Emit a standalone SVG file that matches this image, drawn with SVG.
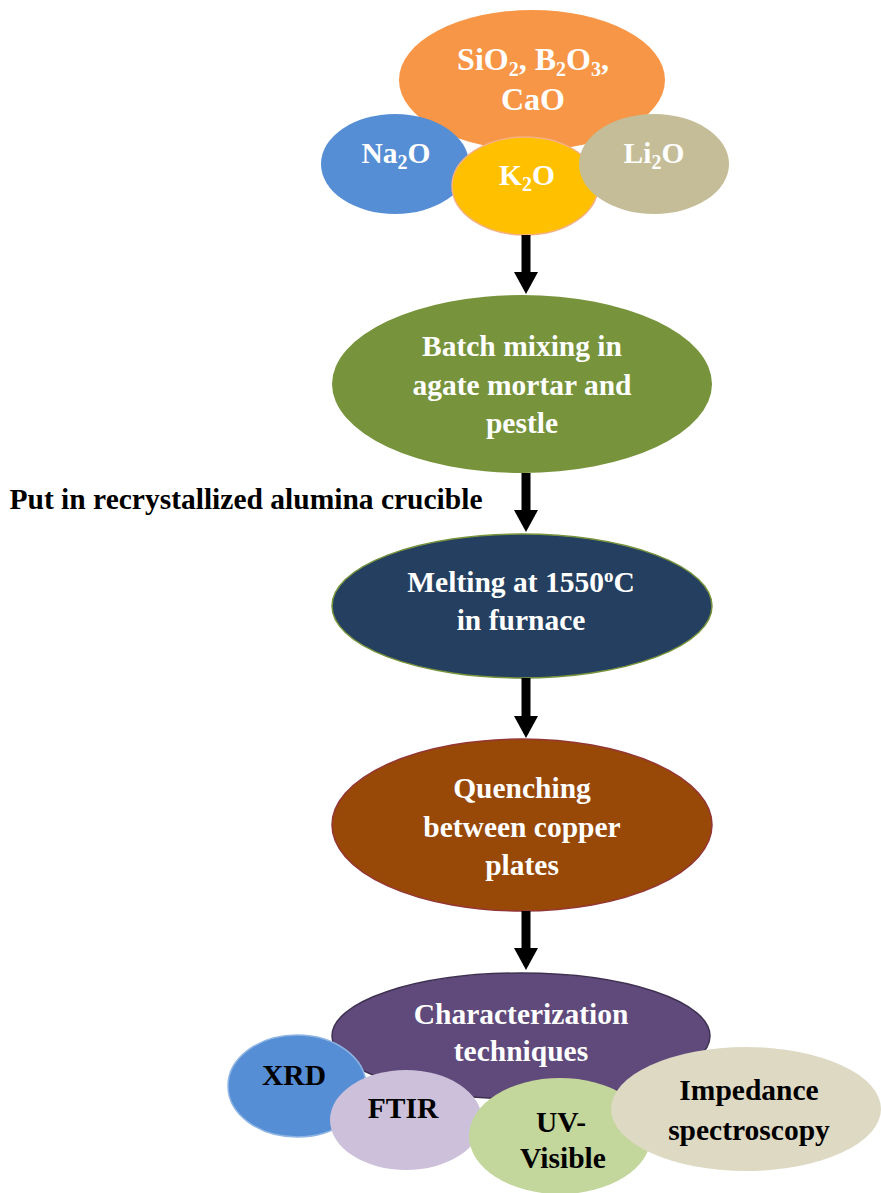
<svg xmlns="http://www.w3.org/2000/svg" width="881" height="1193" viewBox="0 0 881 1193">
<style>
text{font-family:"Liberation Serif","Times New Roman",serif;font-weight:bold;font-size:29.5px;text-anchor:middle}
.w{fill:#FFFFFF}
.k{fill:#000000}
.big{font-size:32px}
.sub{font-size:20px}
.conn line{stroke:#000;stroke-width:9}
</style>
<defs>
<marker id="ah" markerUnits="userSpaceOnUse" markerWidth="22" markerHeight="24" viewBox="0 0 22 24" refX="0" refY="12" orient="auto">
<path d="M0,0 L22,12 L0,24 z" fill="#000"/>
</marker>
</defs>
<rect width="881" height="1193" fill="#FFFFFF"/>

<g id="oxides-main">
<ellipse cx="532" cy="80" rx="133" ry="70" fill="#F79646"/>
<text class="w big" x="533" y="70">SiO<tspan class="sub" dy="6">2</tspan><tspan dy="-6">, B</tspan><tspan class="sub" dy="6">2</tspan><tspan dy="-6">O</tspan><tspan class="sub" dy="6">3</tspan><tspan dy="-6">,</tspan></text>
<text class="w big" x="533" y="110">CaO</text>
</g>
<g id="na2o">
<ellipse cx="395" cy="164" rx="74" ry="50" fill="#558ED5"/>
<text class="w" x="396" y="163">Na<tspan class="sub" dy="6">2</tspan><tspan dy="-6">O</tspan></text>
</g>
<g id="k2o">
<ellipse cx="525" cy="186" rx="73" ry="49" fill="#FFC000" stroke="#F4B183" stroke-width="1.5"/>
<text class="w" x="527" y="185">K<tspan class="sub" dy="6">2</tspan><tspan dy="-6">O</tspan></text>
</g>
<g id="li2o">
<ellipse cx="654" cy="164" rx="75" ry="50" fill="#C4BD97"/>
<text class="w" x="654" y="163">Li<tspan class="sub" dy="6">2</tspan><tspan dy="-6">O</tspan></text>
</g>

<g id="batch">
<ellipse cx="522" cy="384" rx="190" ry="89" fill="#77933C"/>
<text class="w" x="522" y="356">Batch mixing in</text>
<text class="w" x="522" y="395">agate mortar and</text>
<text class="w" x="522" y="433">pestle</text>
</g>

<g id="crucible-label">
<text class="k" x="246" y="509">Put in recrystallized alumina crucible</text>
</g>

<g id="melting">
<ellipse cx="522" cy="606" rx="190" ry="72" fill="#243F60" stroke="#77933C" stroke-width="1.5"/>
<text class="w" x="521" y="592">Melting at 1550<tspan font-size="19px" dy="-10">o</tspan><tspan dy="10">C</tspan></text>
<text class="w" x="521" y="630">in furnace</text>
</g>

<g id="quenching">
<ellipse cx="522" cy="825" rx="190" ry="86" fill="#984807" stroke="#943634" stroke-width="1.5"/>
<text class="w" x="522" y="798">Quenching</text>
<text class="w" x="522" y="837">between copper</text>
<text class="w" x="522" y="875">plates</text>
</g>

<g id="characterization">
<ellipse cx="521" cy="1036" rx="189" ry="63" fill="#604A7B" stroke="#3F3151" stroke-width="1.5"/>
<text class="w" x="521" y="1024">Characterization</text>
<text class="w" x="521" y="1061">techniques</text>
</g>
<g id="xrd">
<ellipse cx="297" cy="1086" rx="69" ry="51" fill="#558ED5" stroke="#8EB4E3" stroke-width="1.5"/>
<text class="k" x="294" y="1085">XRD</text>
</g>
<g id="ftir">
<ellipse cx="406" cy="1120" rx="76" ry="50" fill="#CCC0DA"/>
<text class="k" x="403" y="1118">FTIR</text>
</g>
<g id="uv">
<ellipse cx="560" cy="1136" rx="91" ry="58" fill="#C3D69B"/>
<text class="k" x="561" y="1132">UV-</text>
<text class="k" x="563" y="1168">Visible</text>
</g>
<g id="impedance">
<ellipse cx="746" cy="1109" rx="135" ry="62" fill="#DDD9C3"/>
<text class="k" x="749" y="1100">Impedance</text>
<text class="k" x="749" y="1140">spectroscopy</text>
</g>

<g id="connectors" class="conn">
<line x1="526" y1="235" x2="526" y2="272" marker-end="url(#ah)"/>
<line x1="526" y1="473" x2="526" y2="510" marker-end="url(#ah)"/>
<line x1="526" y1="678" x2="526" y2="716" marker-end="url(#ah)"/>
<line x1="526" y1="911" x2="526" y2="948" marker-end="url(#ah)"/>
</g>
</svg>
